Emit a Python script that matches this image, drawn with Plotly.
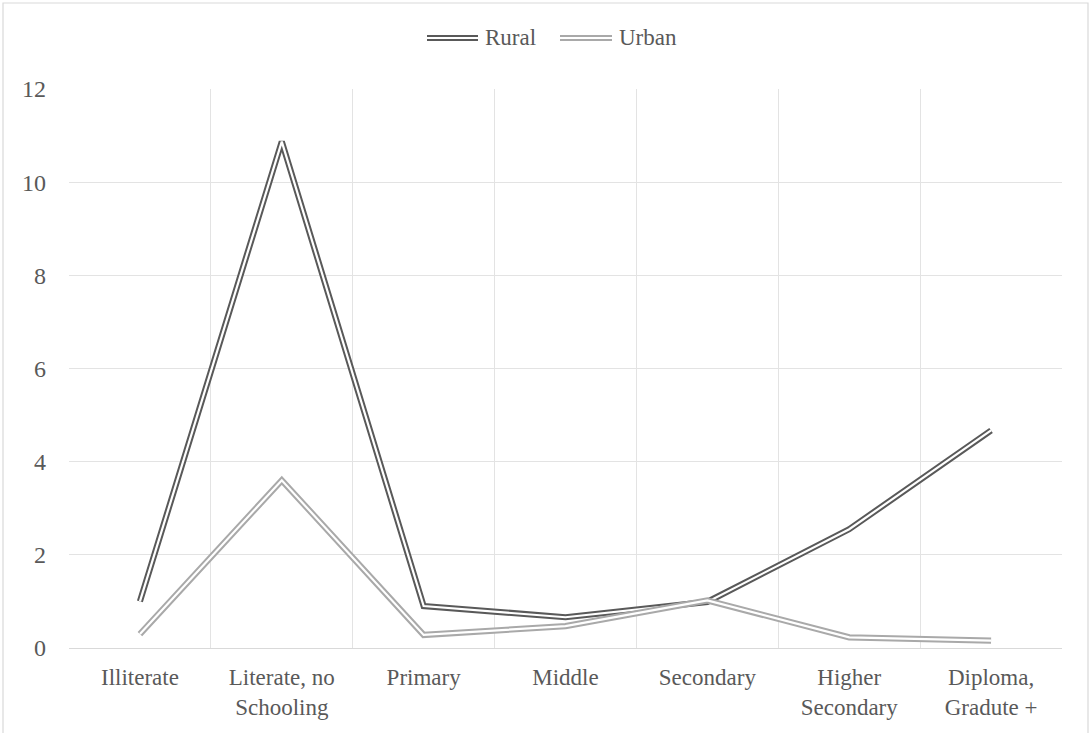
import plotly.graph_objects as go

# Education level categories (x axis)
categories = [
    "Illiterate",
    "Literate, no<br>Schooling",
    "Primary",
    "Middle",
    "Secondary",
    "Higher<br>Secondary",
    "Diploma,<br>Gradute +",
]

# Series values
series_names = ["Rural", "Urban"]
rural = [1.0, 10.87, 0.9, 0.66, 0.99, 2.55, 4.67]
urban = [0.3, 3.6, 0.28, 0.47, 1.02, 0.23, 0.16]

y_ticks = [0, 2, 4, 6, 8, 10, 12]

colors = {"Rural": "#595959", "Urban": "#a9a9a9"}
text_color = "#595959"
grid_color = "#e3e3e3"

W, H = 1091, 733
L, R, T, B = 69, 29, 89, 85
pw, ph = W - L - R, H - T - B

OUTER_W, INNER_W = 6.2, 2.2

fig = go.Figure()

# "Double" compound line: a wide coloured stroke with a thin white core
for name, vals in zip(series_names, [rural, urban]):
    fig.add_trace(go.Scatter(
        x=categories, y=vals, mode="lines", name=name,
        line=dict(color=colors[name], width=OUTER_W),
        showlegend=False, hoverinfo="skip",
    ))
    fig.add_trace(go.Scatter(
        x=categories, y=vals, mode="lines", name=name,
        line=dict(color="white", width=INNER_W),
        showlegend=False, hoverinfo="skip",
    ))


def px_to_paper(px, py):
    return (px - L) / pw, (H - B - py) / ph


shapes = []
annotations = []

# Legend drawn at the top centre with double-line keys
legend_items = [("Rural", 427, 478, 483), ("Urban", 560, 612, 617)]
for name, x0, x1, xt in legend_items:
    ax0, ay = px_to_paper(x0, 38)
    ax1, _ = px_to_paper(x1, 38)
    for w, c in [(OUTER_W, colors[name]), (INNER_W, "white")]:
        shapes.append(dict(type="line", xref="paper", yref="paper",
                           x0=ax0, x1=ax1, y0=ay, y1=ay,
                           line=dict(color=c, width=w)))
    tx, _ = px_to_paper(xt, 38)
    annotations.append(dict(xref="paper", yref="paper", x=tx, y=ay,
                            text=name, showarrow=False, xanchor="left",
                            yanchor="middle",
                            font=dict(family="Liberation Serif", size=23,
                                      color=text_color)))

# Chart outer border
bx0, by0 = px_to_paper(3, 3)
bx1, by1 = px_to_paper(1088, 745)
shapes.append(dict(type="rect", xref="paper", yref="paper",
                   x0=bx0, x1=bx1, y0=by1, y1=by0,
                   line=dict(color="#d9d9d9", width=1.2), layer="below"))

fig.update_layout(
    width=W, height=H,
    margin=dict(l=L, r=R, t=T, b=B, pad=0),
    paper_bgcolor="white", plot_bgcolor="white",
    showlegend=False,
    shapes=shapes, annotations=annotations,
    font=dict(family="Liberation Serif", size=23, color=text_color),
    xaxis=dict(
        type="category", tickson="boundaries", showgrid=True,
        gridcolor=grid_color, gridwidth=1.2, showline=True,
        linecolor="#d9d9d9", linewidth=1.2, ticks="", mirror=False,
        range=[-0.5, 6.5], zeroline=False,
        tickfont=dict(family="Liberation Serif", size=23, color=text_color),
        ticklabelstandoff=8,
    ),
    yaxis=dict(
        range=[0, 12], tickvals=y_ticks, showgrid=True,
        gridcolor=grid_color, gridwidth=1.2, zeroline=False,
        showline=False, ticks="",
        tickfont=dict(family="Liberation Serif", size=24, color=text_color),
        ticklabelstandoff=22,
    ),
)

fig.write_html("out.html")
